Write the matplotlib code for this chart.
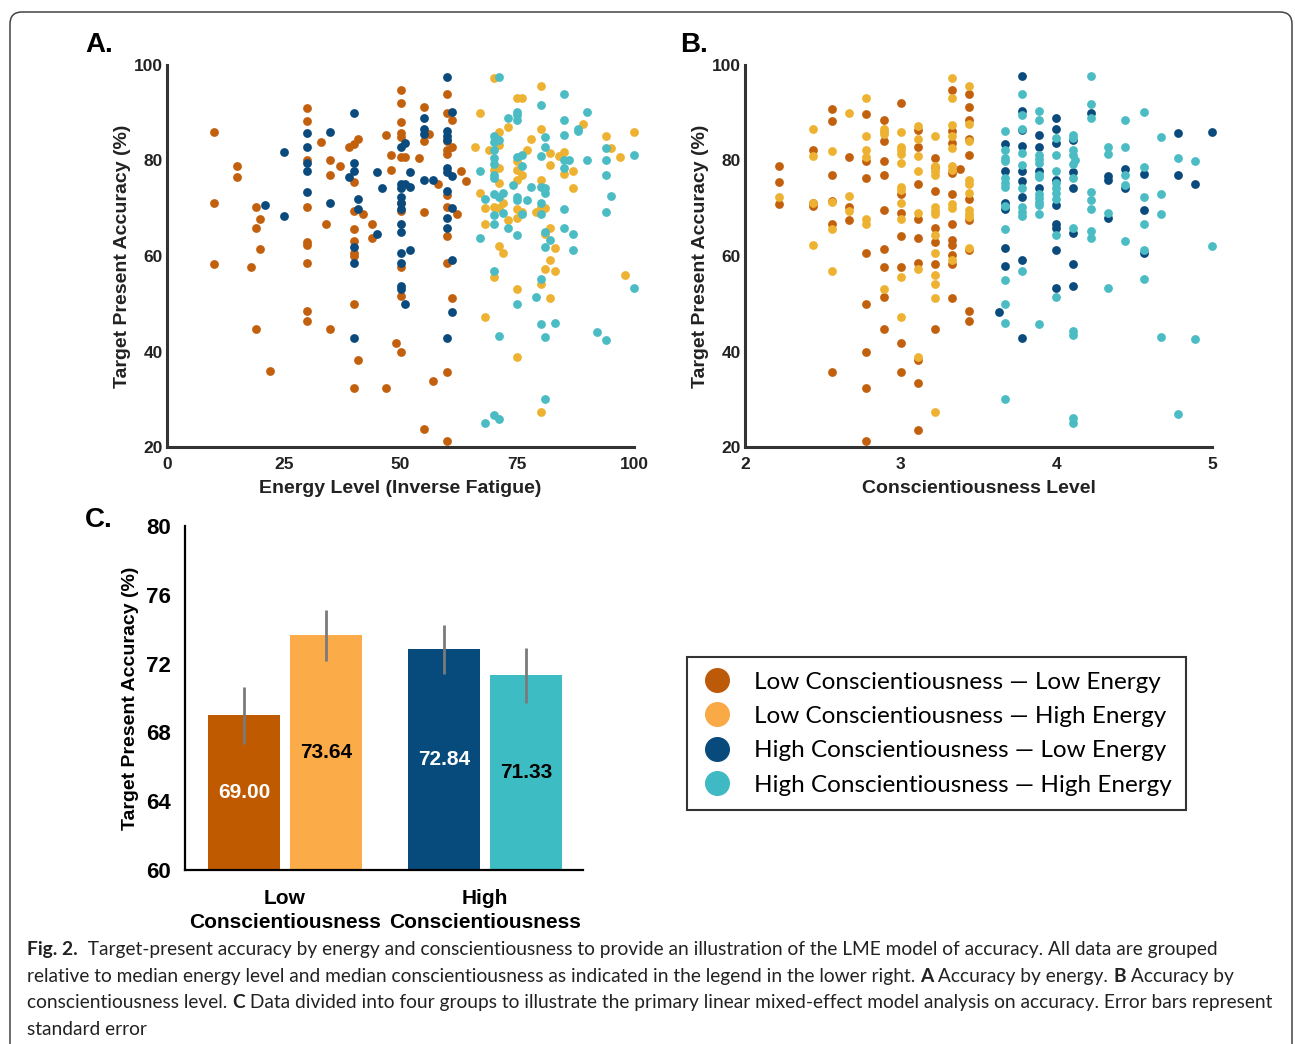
import numpy as np
import matplotlib
matplotlib.use("Agg")
import matplotlib.pyplot as plt
from matplotlib.patches import FancyBboxPatch
from matplotlib.lines import Line2D

# ---- colours
c_lcle = "#C2600E"
c_lche = "#EEB232"
c_hcle = "#0B4A7C"
c_hche = "#4BBCC4"
bar_colors = ["#BF5A00", "#FBAB47", "#064B7C", "#3EBCC4"]
leg_colors = ["#BD5A0A", "#F9A945", "#084A7B", "#3FB9C3"]

# ---- panel A: energy level vs accuracy
a_lcle_x = [10, 10, 10, 15, 15, 19, 20, 19, 20, 18, 19, 22,
            30, 30, 30, 30, 30, 30, 30, 30, 30, 33, 35, 35, 37, 34, 35,
            39, 40, 41, 40, 40, 40, 40, 40, 40, 40, 41, 40,
            42, 44, 44, 47, 48, 48, 47,
            50, 50, 50, 50, 50, 50, 51, 50, 50, 50, 50, 49, 50,
            55, 55, 56, 54, 55, 58, 57, 55,
            60, 60, 61, 60, 61, 60, 60, 60, 60, 62, 60, 60, 61, 60, 60, 63, 64]
a_lcle_y = [86.0, 71.0, 58.3, 78.8, 76.5, 70.3, 67.7, 65.9, 61.4, 57.6, 44.7, 35.9,
            90.9, 88.3, 80.1, 70.3, 63.0, 62.2, 58.6, 48.4, 46.4, 83.8, 80.1, 77.0, 78.8, 66.7, 44.7,
            82.9, 83.5, 84.5, 75.6, 69.4, 65.7, 63.2, 60.7, 60.0, 49.9, 38.2, 32.4,
            68.8, 66.7, 63.7, 85.3, 81.1, 78.0, 32.4,
            94.8, 92.0, 88.1, 85.8, 84.9, 80.7, 80.7, 71.0, 69.4, 57.7, 51.6, 41.7, 40.0,
            91.1, 84.1, 85.5, 80.5, 69.3, 75.1, 33.9, 23.7,
            93.9, 89.9, 88.5, 84.1, 82.9, 82.1, 81.3, 72.8, 70.3, 68.8, 64.1, 58.6, 51.3, 35.8, 21.3, 77.9, 75.8]

a_hcle_x = [40, 25, 30, 30, 30, 30, 30, 35, 35, 21, 25, 40, 40, 39, 41, 41, 40, 40, 40, 45, 46, 45,
            50, 51, 50, 51, 50, 50, 50, 50, 50, 50, 50, 50, 50, 50, 51, 52, 52,
            60, 61, 55, 55, 55, 60, 60, 60, 55, 57, 60, 60, 61, 60, 61, 60, 60, 61, 61, 60, 52]
a_hcle_y = [89.9, 81.7, 85.7, 82.9, 79.4, 77.8, 73.3, 86.0, 71.2, 70.7, 68.4, 79.4, 77.8, 76.5, 71.9, 69.8, 61.8, 58.6, 42.9, 77.5, 74.3, 64.7,
            82.8, 83.6, 75.1, 75.1, 74.3, 72.4, 71.0, 69.8, 66.7, 65.1, 60.6, 58.6, 53.7, 53.0, 49.9, 61.3, 77.6,
            97.5, 90.2, 89.0, 86.6, 85.5, 86.2, 85.1, 84.3, 75.9, 75.9, 78.4, 77.5, 76.8, 73.6, 70.0, 67.9, 65.8, 59.2, 48.3, 42.9, 74.5]

a_lche_x = [70, 80, 75, 76, 67, 80, 73, 71, 89, 94, 100, 66, 69, 71, 78, 77, 82, 84, 85, 85, 87, 87, 82, 95, 97,
            71, 70, 71, 75, 75, 76, 75, 67, 68, 68, 70, 71, 72, 73, 75, 75, 76, 79, 80, 80, 81, 81, 82, 83,
            82, 81, 83, 71, 72, 70, 80, 75, 82, 68, 75, 80, 98]
a_lche_y = [97.2, 95.5, 93.0, 93.0, 90.0, 86.6, 87.1, 86.0, 87.6, 85.1, 86.0, 82.8, 82.1, 83.2, 84.4, 82.2, 81.5, 81.0, 81.8, 77.1, 77.8, 74.3, 79.1, 82.6, 80.7,
            78.4, 78.0, 75.2, 79.8, 78.1, 77.0, 75.9, 73.1, 70.1, 66.7, 70.3, 70.0, 71.2, 67.5, 69.8, 68.0, 69.3, 69.3, 75.9, 70.3, 70.0, 64.7, 65.8, 61.6,
            59.2, 57.2, 56.9, 62.1, 60.7, 55.5, 54.1, 53.0, 51.3, 47.3, 38.9, 27.4, 56.0]

a_hche_x = [71, 85, 80, 75, 75, 75, 73, 90, 85, 88, 88, 85, 70, 70, 71, 81, 81, 80, 70, 70, 75, 76, 76,
            85, 85, 86, 90, 94, 94, 94, 100, 67, 70, 70, 70, 74, 78, 80, 81, 81, 68, 70, 71, 72, 70, 70, 72, 73,
            75, 75, 77, 76, 80, 80, 81, 81, 82, 87, 87, 85, 85, 94, 95, 67, 75, 70, 80, 79, 75, 100,
            80, 83, 81, 71, 92, 94, 81, 68, 70, 71]
a_hche_y = [97.5, 93.9, 91.6, 90.2, 89.5, 88.5, 88.8, 90.2, 88.5, 86.7, 86.2, 85.3, 85.1, 83.9, 84.3, 85.0, 82.9, 80.9, 82.2, 80.5, 80.8, 81.2, 78.8,
            80.1, 78.4, 80.1, 80.1, 80.1, 82.6, 77.0, 81.2, 77.8, 79.2, 77.0, 76.3, 74.9, 74.5, 74.5, 74.2, 73.1, 71.9, 73.0, 72.3, 73.2, 68.6, 66.7, 69.1, 65.8,
            72.4, 71.7, 71.7, 68.8, 71.0, 68.9, 65.1, 61.9, 63.3, 64.6, 61.3, 69.8, 65.8, 69.2, 72.5, 63.7, 64.4, 56.9, 55.1, 51.5, 49.9, 53.4,
            45.7, 45.9, 43.1, 43.2, 44.1, 42.5, 30.0, 25.1, 26.8, 25.8]

# ---- panel B: conscientiousness level vs accuracy (one list per level)
b_lcle = {2.22: [78.8, 75.6, 70.9], 2.44: [82.1, 71.2, 70.5],
          2.56: [90.8, 88.2, 77.0, 71.5, 66.8, 35.8], 2.67: [80.7, 70.2, 67.5],
          2.78: [89.7, 80.0, 76.3, 60.6, 49.9, 40.0, 32.3, 21.3],
          2.89: [88.5, 84.1, 80.0, 77.0, 69.6, 61.4, 57.6, 51.5, 44.8],
          3.0: [92.1, 72.9, 69.0, 64.1, 57.6, 41.7, 35.8],
          3.11: [86.4, 82.9, 75.1, 67.7, 63.8, 58.6, 38.2, 33.3, 23.6],
          3.22: [80.6, 78.6, 73.6, 65.9, 63.0, 58.3, 44.8],
          3.33: [94.8, 86.2, 83.6, 77.3, 73.0, 66.8, 63.4, 62.4, 60.2, 58.3, 51.3],
          3.38: [78.2],
          3.44: [93.9, 91.3, 88.5, 84.6, 81.2, 71.9, 67.5, 61.2, 48.5, 46.4]}
b_lche = {2.22: [72.3], 2.44: [86.5, 81.0, 71.2, 62.2], 2.56: [81.9, 71.4, 65.6, 56.9],
          2.67: [89.9, 72.6, 69.5], 2.78: [93.0, 85.1, 82.1, 80.7, 67.8, 66.7],
          2.89: [86.7, 86.0, 85.5, 53.0],
          3.0: [86.0, 82.8, 82.1, 81.4, 79.4, 74.5, 73.8, 71.1, 67.8, 55.7, 47.2],
          3.11: [87.2, 84.4, 81.0, 77.8, 69.1, 57.2, 38.9],
          3.22: [85.1, 78.8, 77.8, 77.0, 70.3, 69.5, 68.8, 64.4, 60.6, 56.0, 54.1, 51.3, 27.4],
          3.33: [97.2, 93.0, 87.4, 85.1, 82.6, 78.8, 78.0, 70.8, 70.0, 59.2],
          3.44: [95.5, 87.6, 84.0, 75.9, 75.1, 73.1, 69.6, 68.9, 68.2, 61.6]}
b_hcle = {3.63: [48.3], 3.67: [83.4, 77.9, 71.2, 69.8, 61.6, 58.0],
          3.78: [97.6, 90.4, 86.4, 83.0, 77.9, 75.8, 72.3, 59.2, 42.9],
          3.89: [85.3, 82.8, 77.7, 74.3],
          4.0: [88.8, 86.5, 83.6, 75.9, 70.7, 66.7, 65.8, 61.3, 53.2],
          4.11: [84.3, 77.5, 74.3, 64.9, 58.3, 53.8], 4.22: [90.0],
          4.33: [76.8, 75.9, 67.9], 4.44: [78.2, 74.3], 4.56: [77.2, 69.6, 60.6],
          4.78: [85.7, 77.0], 4.89: [75.1], 5.0: [86.0]}
b_hche = {3.67: [86.2, 82.1, 80.5, 79.8, 76.3, 75.2, 74.4, 70.5, 65.6, 55.0, 49.9, 45.9, 30.0],
          3.78: [93.9, 89.5, 86.7, 81.6, 79.1, 74.3, 70.3, 69.3, 68.4, 56.9],
          3.89: [90.4, 88.5, 81.2, 80.3, 79.4, 77.0, 76.5, 72.9, 72.1, 71.4, 70.7, 68.7, 45.7],
          4.0: [84.8, 81.2, 77.8, 75.2, 74.2, 73.1, 71.9, 64.4, 51.5],
          4.11: [85.3, 84.8, 82.1, 81.2, 79.3, 76.3, 65.8, 44.2, 43.5, 26.1, 25.1],
          4.12: [80.1],
          4.22: [97.6, 91.8, 88.8, 73.3, 71.7, 69.8, 65.3, 63.7],
          4.33: [82.8, 81.3, 69.1, 53.4], 4.44: [88.5, 82.9, 77.0, 74.9, 63.2],
          4.56: [90.2, 78.7, 72.3, 66.7, 61.3, 55.1], 4.67: [85.0, 73.0, 68.8, 43.1],
          4.78: [80.6, 27.0], 4.89: [80.0, 42.6], 5.0: [62.0]}

# ---- panel C: group means
groups = ["Low\nConscientiousness", "High\nConscientiousness"]
bar_vals = [69.00, 73.64, 72.84, 71.33]
bar_err = [1.65, 1.5, 1.42, 1.6]
bar_label_colors = ["white", "black", "white", "black"]
legend_labels = ["Low Conscientiousness \u2014 Low Energy",
                 "Low Conscientiousness \u2014 High Energy",
                 "High Conscientiousness \u2014 Low Energy",
                 "High Conscientiousness \u2014 High Energy"]

W, H = 1295, 1044
fig = plt.figure(figsize=(W / 100, H / 100), dpi=100)
fig.patch.set_facecolor("white")

# background axes in pixel coordinates (frame + caption)
bg = fig.add_axes([0, 0, 1, 1], zorder=-5)
bg.set_xlim(0, W)
bg.set_ylim(H, 0)
bg.axis("off")
bg.add_patch(FancyBboxPatch((10, 12), 1282, 1100, boxstyle="round,pad=0,rounding_size=12",
                            fc="none", ec="#444444", lw=1.1))

axfont = "Liberation Sans"
spine_col = "#333333"


def style_scatter_ax(ax):
    for s in ["top", "right"]:
        ax.spines[s].set_visible(False)
    for s in ["left", "bottom"]:
        ax.spines[s].set_linewidth(2.2)
        ax.spines[s].set_color(spine_col)
    ax.tick_params(length=0, labelsize=12.5)
    ax.tick_params(axis="y", pad=3)
    ax.tick_params(axis="x", pad=7)
    for lab in ax.get_xticklabels() + ax.get_yticklabels():
        lab.set_fontfamily(axfont)
        lab.set_fontweight("bold")
        lab.set_color("#222222")
    ax.set_ylabel("Target Present Accuracy (%)", fontsize=14, fontweight="bold",
                  family=axfont, color="#222222", labelpad=2)


def cols_to_xy(d):
    xs, ys = [], []
    for k, v in d.items():
        xs += [k] * len(v)
        ys += v
    return xs, ys


ms = 40
axA = fig.add_axes([167 / W, 1 - 447 / H, 467 / W, 382 / H])
axA.scatter(a_lcle_x, a_lcle_y, s=ms, color=c_lcle, lw=0, clip_on=False, zorder=3)
axA.scatter(a_hcle_x, a_hcle_y, s=ms, color=c_hcle, lw=0, clip_on=False, zorder=3)
axA.scatter(a_lche_x, a_lche_y, s=ms, color=c_lche, lw=0, clip_on=False, zorder=3)
axA.scatter(a_hche_x, a_hche_y, s=ms, color=c_hche, lw=0, clip_on=False, zorder=3)
axA.set_xlim(0, 100)
axA.set_ylim(20, 100)
axA.set_xticks([0, 25, 50, 75, 100])
axA.set_yticks([20, 40, 60, 80, 100])
style_scatter_ax(axA)
axA.set_xlabel("Energy Level (Inverse Fatigue)", fontsize=14, fontweight="bold",
               family=axfont, color="#222222", labelpad=6)

axB = fig.add_axes([745 / W, 1 - 447 / H, 467 / W, 382 / H])
for d, c in [(b_lcle, c_lcle), (b_lche, c_lche), (b_hcle, c_hcle), (b_hche, c_hche)]:
    xs, ys = cols_to_xy(d)
    axB.scatter(xs, ys, s=ms, color=c, lw=0, clip_on=False, zorder=3)
axB.set_xlim(2, 5)
axB.set_ylim(20, 100)
axB.set_xticks([2, 3, 4, 5])
axB.set_yticks([20, 40, 60, 80, 100])
style_scatter_ax(axB)
axB.set_xlabel("Conscientiousness Level", fontsize=14, fontweight="bold",
               family=axfont, color="#222222", labelpad=6)

# panel C bars
axC = fig.add_axes([185 / W, 1 - 870 / H, 398 / W, 344 / H])
group_pos = np.array([1.389, 4.167])
offs = 0.57
bar_x = [group_pos[0] - offs, group_pos[0] + offs, group_pos[1] - offs, group_pos[1] + offs]
axC.bar(bar_x, np.array(bar_vals) - 60, bottom=60, width=1.0, color=bar_colors, zorder=2)
axC.errorbar(bar_x, bar_vals, yerr=bar_err, fmt="none", ecolor="#7a7a7a", elinewidth=2, capsize=0, zorder=3)
for x, v, c in zip(bar_x, bar_vals, bar_label_colors):
    axC.text(x, (60 + v) / 2, f"{v:.2f}", ha="center", va="center", color=c,
             fontsize=15, fontweight="bold", family=axfont)
axC.set_xlim(0, 5.53)
axC.set_ylim(60, 80)
axC.set_yticks([60, 64, 68, 72, 76, 80])
axC.set_xticks(group_pos)
axC.set_xticklabels(groups, fontsize=15, fontweight="bold", family=axfont, linespacing=1.3)
for s in ["top", "right"]:
    axC.spines[s].set_visible(False)
for s in ["left", "bottom"]:
    axC.spines[s].set_linewidth(1.6)
    axC.spines[s].set_color("black")
axC.tick_params(axis="y", length=0, pad=10)
axC.tick_params(axis="x", length=0, pad=14)
for lab in axC.get_yticklabels():
    lab.set_fontsize(16)
    lab.set_fontweight("bold")
    lab.set_fontfamily(axfont)
axC.set_ylabel("Target Present Accuracy (%)", fontsize=14, fontweight="bold",
               family=axfont, labelpad=5)

# panel letters
for x, y, t in [(85, 52, "A."), (680, 52, "B."), (85, 527, "C.")]:
    bg.text(x, y, t, fontsize=20, fontweight="bold", family=axfont, va="baseline", ha="left")

# legend
handles = [Line2D([], [], marker="o", ls="", markersize=17, color=c, mec=c) for c in leg_colors]
leg = fig.legend(handles, legend_labels, loc="upper left",
                 bbox_to_anchor=(687 / W, 1 - 657 / H), borderaxespad=0,
                 prop={"family": "Lato", "size": 17.5}, frameon=True, fancybox=False,
                 edgecolor="black", labelspacing=0.55, handletextpad=0.85, borderpad=0.6,
                 handlelength=1.3)
leg.get_frame().set_linewidth(1.5)

# caption with bold runs
cap_font = "Lato"
cap_size = 13.8
caption = [
    [("Fig. 2.", True), ("  Target-present accuracy by energy and conscientiousness to provide an illustration of the LME model of accuracy. All data are grouped", False)],
    [("relative to median energy level and median conscientiousness as indicated in the legend in the lower right. ", False), ("A", True),
     (" Accuracy by energy. ", False), ("B", True), (" Accuracy by", False)],
    [("conscientiousness level. ", False), ("C", True),
     (" Data divided into four groups to illustrate the primary linear mixed-effect model analysis on accuracy. Error bars represent", False)],
    [("standard error", False)],
]
fig.canvas.draw()
renderer = fig.canvas.get_renderer()
for i, line in enumerate(caption):
    x = 27
    y = 955 + i * 26.7
    for txt, bold in line:
        t = bg.text(x, y, txt, fontsize=cap_size, family=cap_font,
                    fontweight="bold" if bold else "normal", va="baseline", ha="left", color="#222222")
        x += t.get_window_extent(renderer).width

fig.savefig("out.png", dpi=100)
